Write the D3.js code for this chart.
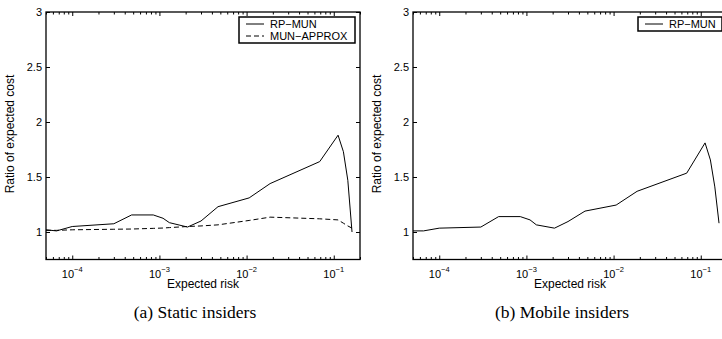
<!DOCTYPE html>
<html>
<head>
<meta charset="utf-8">
<script src="https://cdn.jsdelivr.net/npm/d3@7"></script>
<style>
  body { margin: 0; background: #fff; }
  svg { display: block; }
  text { font-family: "Liberation Sans", Arial, sans-serif; fill: #000; }
  .caption { font-family: "Liberation Serif", "Times New Roman", serif; }
</style>
</head>
<body>
<svg id="fig" width="722" height="339"></svg>
<script>

// expected risk (x), shared by every series
var riskX = [5.0e-5, 6.6e-5, 1.0e-4, 3.0e-4, 4.8e-4, 8.5e-4, 1.1e-3, 1.3e-3, 2.1e-3,
             3.0e-3, 4.7e-3, 1.07e-2, 1.86e-2, 6.9e-2, 1.12e-1, 1.29e-1, 1.45e-1, 1.62e-1];

// ratio of expected cost
var staticRpMun = [1.02, 1.01, 1.05, 1.075, 1.155, 1.155, 1.125, 1.085, 1.045,
                   1.10, 1.23, 1.31, 1.44, 1.64, 1.88, 1.73, 1.47, 1.00];
var staticMunApprox = [1.015, 1.015, 1.02, 1.025, 1.027, 1.033, 1.036, 1.04, 1.05,
                       1.055, 1.065, 1.105, 1.135, 1.12, 1.11, 1.08, 1.055, 1.035];
var mobileRpMun = [1.01, 1.01, 1.035, 1.045, 1.14, 1.14, 1.11, 1.065, 1.035,
                   1.095, 1.19, 1.245, 1.37, 1.535, 1.81, 1.655, 1.41, 1.08];

var xDomain = [5e-5, 0.2];
var yDomain = [0.75, 3];
var xMajorTicks = [1e-4, 1e-3, 1e-2, 1e-1];
var yTicks = [1, 1.5, 2, 2.5, 3];

var panels = [
    {left: 46, caption: "(a) Static insiders",
     series: [{name: "RP\u2212MUN", values: staticRpMun, dash: null},
              {name: "MUN\u2212APPROX", values: staticMunApprox, dash: "5,3"}]},
    {left: 413, caption: "(b) Mobile insiders",
     series: [{name: "RP\u2212MUN", values: mobileRpMun, dash: null}]}
];

(function(){
    var svg = d3.select("#fig");
    svg.append("rect").attr("width", 722).attr("height", 339).attr("fill", "#fff");

    var plotW = 314, top = 12, bottom = 259.5;

    panels.forEach(function(p) {
        var x = d3.scaleLog().domain(xDomain).range([p.left, p.left + plotW]);
        var y = d3.scaleLinear().domain(yDomain).range([bottom, top]);
        var g = svg.append("g");

        var minor = x.ticks().filter(function(t) {
            return xMajorTicks.indexOf(t) < 0;
        });

        function tickAxis(axis, values, size) {
            return axis.tickValues(values).tickSize(size).tickFormat("");
        }

        // ticks on all four sides, pointing inward
        g.append("g").attr("transform", "translate(0," + bottom + ")")
            .call(tickAxis(d3.axisBottom(x), xMajorTicks, -4));
        g.append("g").attr("transform", "translate(0," + top + ")")
            .call(tickAxis(d3.axisTop(x), xMajorTicks, -4));
        g.append("g").attr("transform", "translate(0," + bottom + ")")
            .call(tickAxis(d3.axisBottom(x), minor, -2.5));
        g.append("g").attr("transform", "translate(0," + top + ")")
            .call(tickAxis(d3.axisTop(x), minor, -2.5));
        g.append("g").attr("transform", "translate(" + p.left + ",0)")
            .call(tickAxis(d3.axisLeft(y), yTicks, -4));
        g.append("g").attr("transform", "translate(" + (p.left + plotW) + ",0)")
            .call(tickAxis(d3.axisRight(y), yTicks, -4));

        g.selectAll(".domain").remove();
        g.selectAll(".tick line").attr("stroke", "#000").attr("stroke-width", 1);

        // y tick labels
        g.selectAll(".ylab")
            .data(yTicks)
            .enter().append("text")
            .attr("class", "ylab")
            .attr("x", p.left - 4)
            .attr("y", function(d) { return y(d); })
            .attr("dy", "0.35em")
            .attr("text-anchor", "end")
            .style("font-size", "11px")
            .text(function(d) { return d; });

        // x tick labels 10^n
        var xl = g.selectAll(".xlab")
            .data(xMajorTicks)
            .enter().append("text")
            .attr("class", "xlab")
            .attr("x", function(d) { return x(d); })
            .attr("y", 278)
            .attr("text-anchor", "middle")
            .style("font-size", "11px");
        xl.append("tspan").text("10");
        xl.append("tspan")
            .attr("dy", -6)
            .style("font-size", "7.5px")
            .text(function(d) { return "\u2212" + Math.round(-Math.log10(d)); });

        // axis titles
        g.append("text")
            .attr("x", p.left + plotW / 2)
            .attr("y", 288)
            .attr("text-anchor", "middle")
            .style("font-size", "12px")
            .text("Expected risk");
        g.append("text")
            .attr("transform", "translate(" + (p.left - 32) + "," + 134 + ") rotate(-90)")
            .attr("text-anchor", "middle")
            .style("font-size", "12px")
            .text("Ratio of expected cost");

        // lines
        var line = d3.line()
            .x(function(d) { return x(d[0]); })
            .y(function(d) { return y(d[1]); });
        p.series.forEach(function(s) {
            g.append("path")
                .datum(d3.zip(riskX, s.values))
                .attr("d", line)
                .attr("fill", "none")
                .attr("stroke", "#000")
                .attr("stroke-width", 1)
                .attr("stroke-dasharray", s.dash);
        });

        // plot box
        g.append("rect")
            .attr("x", p.left)
            .attr("y", top)
            .attr("width", plotW)
            .attr("height", bottom - top)
            .attr("fill", "none")
            .attr("stroke", "#000")
            .attr("stroke-width", 1.3);

        // legend
        var rowH = 12;
        var legW = p.series.length > 1 ? 116 : 84;
        var legX = p.left + plotW - 5 - legW, legY = 17;
        var leg = g.append("g");
        leg.append("rect")
            .attr("x", legX)
            .attr("y", legY)
            .attr("width", legW)
            .attr("height", p.series.length * rowH + 2)
            .attr("fill", "#fff")
            .attr("stroke", "#000")
            .attr("stroke-width", 1.5);
        p.series.forEach(function(s, i) {
            var cy = legY + 7 + i * rowH;
            leg.append("line")
                .attr("x1", legX + 7).attr("x2", legX + 25)
                .attr("y1", cy).attr("y2", cy)
                .attr("stroke", "#000")
                .attr("stroke-width", 1)
                .attr("stroke-dasharray", s.dash);
            leg.append("text")
                .attr("x", legX + 31)
                .attr("y", cy)
                .attr("dy", "0.35em")
                .style("font-size", "11px")
                .text(s.name);
        });

        // caption
        svg.append("text")
            .attr("class", "caption")
            .attr("x", p.left + plotW / 2 - 8)
            .attr("y", 318)
            .attr("text-anchor", "middle")
            .style("font-size", "17.5px")
            .text(p.caption);
    });
})();

</script>
</body>
</html>
